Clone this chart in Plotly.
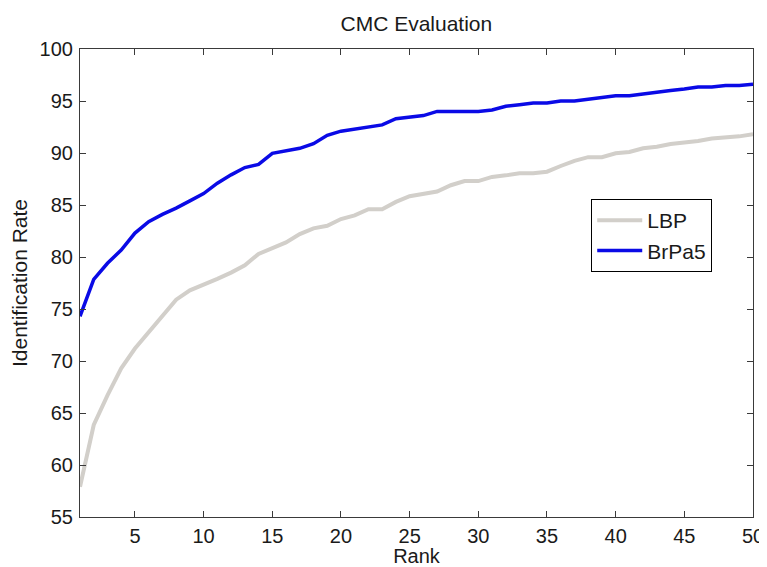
import plotly.graph_objects as go

rank = list(range(1, 51))
lbp = [57.9, 63.85, 66.7, 69.3, 71.2, 72.8, 74.4, 75.9, 76.8, 77.3,
       77.9, 78.5, 79.2, 80.3, 80.9, 81.4, 82.2, 82.75, 83.0, 83.65,
       84.0, 84.6, 84.6, 85.3, 85.85, 86.05, 86.3, 86.9, 87.3, 87.3,
       87.7, 87.85, 88.05, 88.05, 88.2, 88.75, 89.25, 89.6, 89.6, 89.97,
       90.1, 90.45, 90.6, 90.87, 91.0, 91.15, 91.4, 91.5, 91.6, 91.8]
brpa5 = [74.3, 77.85, 79.4, 80.67, 82.3, 83.4, 84.1, 84.7, 85.4, 86.1,
         87.1, 87.9, 88.6, 88.9, 89.97, 90.2, 90.45, 90.9, 91.7, 92.1,
         92.3, 92.45, 92.7, 93.3, 93.45, 93.6, 94.0, 94.0, 94.0, 94.0,
         94.13, 94.5, 94.65, 94.8, 94.8, 95.0, 95.0, 95.16, 95.4, 95.5,
         95.5, 95.67, 95.9, 96.0, 96.15, 96.35, 96.35, 96.5, 96.5, 96.6]
x_ticks = [5, 10, 15, 20, 25, 30, 35, 40, 45, 50]
y_ticks = [55, 60, 65, 70, 75, 80, 85, 90, 95, 100]

FONT = "Liberation Sans, Arial, sans-serif"
FS = 21
TXT = "#1a1a1a"
W, H = 759, 559  # page body has an 8px margin
L, T = 72, 41
PW, PH = 672.7, 468
R, B = W - L - PW, H - T - PH

fig = go.Figure()
fig.add_trace(go.Scatter(x=rank, y=lbp, mode="lines", name="LBP",
                         line=dict(color="#d2cfca", width=4)))
fig.add_trace(go.Scatter(x=rank, y=brpa5, mode="lines", name="BrPa5",
                         line=dict(color="#0a0ae6", width=3.5)))

axis_common = dict(showgrid=False, zeroline=False, showline=True, mirror="allticks",
                   linecolor="#3a3a3a", linewidth=1.2, ticks="inside", ticklen=6,
                   tickcolor="#3a3a3a", tickwidth=1,
                   tickfont=dict(family=FONT, size=20, color=TXT))
fig.update_xaxes(range=[1, 50], tickvals=x_ticks,
                 title=dict(text="Rank", font=dict(family=FONT, size=20, color=TXT), standoff=8),
                 ticklabelstandoff=1, **axis_common)
fig.update_yaxes(range=[55, 100], tickvals=y_ticks,
                 title=dict(text="Identification Rate", font=dict(family=FONT, size=FS, color=TXT), standoff=8),
                 ticklabelstandoff=2, **axis_common)

fig.update_layout(
    width=W, height=H,
    margin=dict(l=L, r=R, t=T, b=B, pad=0, autoexpand=False),
    paper_bgcolor="white", plot_bgcolor="white",
    title=dict(text="CMC Evaluation", x=(L + PW / 2) / W, xanchor="center", y=1 - 16 / H, yanchor="middle",
               font=dict(family=FONT, size=FS, color=TXT)),
    legend=dict(x=(583 - L) / PW, y=(T + PH - 191) / PH, xanchor="left", yanchor="top",
                bgcolor="white", bordercolor="#000000", borderwidth=1,
                font=dict(family=FONT, size=FS, color=TXT),
                itemwidth=45, tracegroupgap=0),
    showlegend=True,
)
fig.write_html("out.html")
